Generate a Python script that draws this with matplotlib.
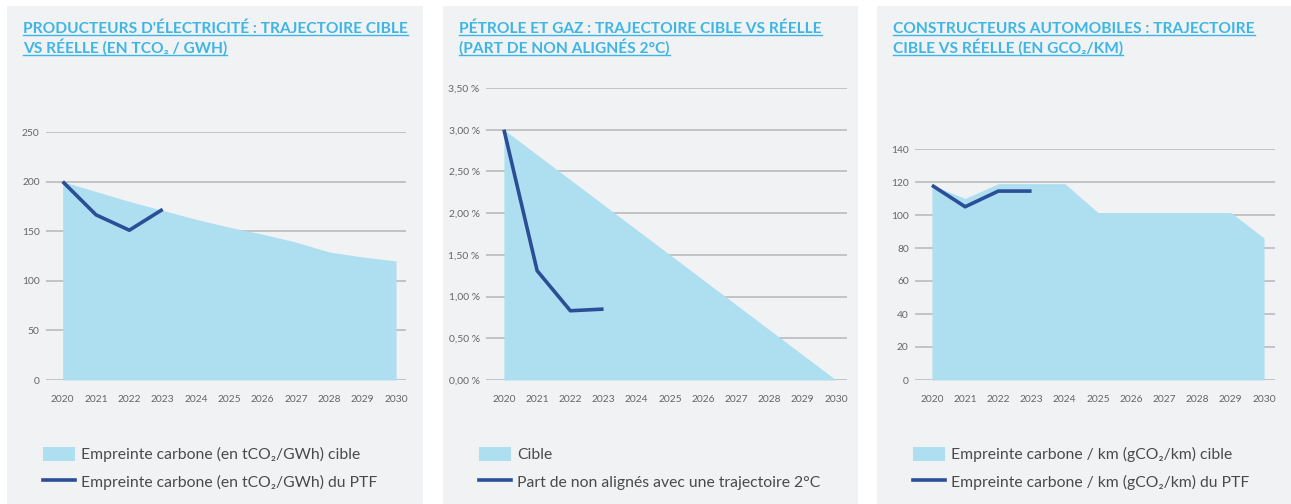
import matplotlib.pyplot as plt
from matplotlib.patches import Rectangle, Patch
from matplotlib.lines import Line2D
from matplotlib.ticker import FuncFormatter

plt.rcParams['font.family'] = ['Lato', 'DejaVu Sans']

# Données
annees = list(range(2020, 2031))
annees_ptf = [2020, 2021, 2022, 2023]

elec_cible = [200, 190, 180, 171, 162, 154, 147, 139, 129, 124, 120]
elec_ptf = [200, 166.5, 151, 172]

petrole_cible = [3.0, 2.7, 2.4, 2.1, 1.8, 1.5, 1.2, 0.9, 0.6, 0.3, 0.0]
petrole_ptf = [3.0, 1.31, 0.83, 0.85]

auto_cible = [118, 110, 119, 119, 119, 101.5, 101.5, 101.5, 101.5, 101.5, 86]
auto_ptf = [118, 105, 114.5, 114.5]

titres = [
    ["PRODUCTEURS D'ÉLECTRICITÉ : TRAJECTOIRE CIBLE", "VS RÉELLE (EN TCO₂ / GWH)"],
    ["PÉTROLE ET GAZ : TRAJECTOIRE CIBLE VS RÉELLE", "(PART DE NON ALIGNÉS 2°C)"],
    ["CONSTRUCTEURS AUTOMOBILES : TRAJECTOIRE", "CIBLE VS RÉELLE (EN GCO₂/KM)"],
]
legendes = [
    ["Empreinte carbone (en tCO₂/GWh) cible", "Empreinte carbone (en tCO₂/GWh) du PTF"],
    ["Cible", "Part de non alignés avec une trajectoire 2°C"],
    ["Empreinte carbone / km (gCO₂/km) cible", "Empreinte carbone / km (gCO₂/km) du PTF"],
]
yticks = [
    [0, 50, 100, 150, 200, 250],
    [0, 0.5, 1.0, 1.5, 2.0, 2.5, 3.0, 3.5],
    [0, 20, 40, 60, 80, 100, 120, 140],
]
cibles = [elec_cible, petrole_cible, auto_cible]
ptfs = [elec_ptf, petrole_ptf, auto_ptf]

W, H = 1291, 504
BLEU_CLAIR = '#addff0'
BLEU_FONCE = '#2b4f96'
TITRE = '#3db6e6'
FOND = '#f1f2f4'

# position des panneaux (pixels) : fond x0, x1 ; axes x0, x1, haut ; limites x
panneaux = [
    dict(bg=(7, 423), ax=(46, 406), top=132, xlim=(2019.5, 2030.3)),
    dict(bg=(443, 858), ax=(486, 847), top=88, xlim=(2019.46, 2030.33)),
    dict(bg=(877, 1291), ax=(915, 1275), top=149, xlim=(2019.49, 2030.33)),
]
AXE_BAS = 380

fig = plt.figure(figsize=(W / 100, H / 100), dpi=100)
fig.patch.set_facecolor('white')


def fx(px):
    return px / W


def fy(py):
    return 1 - py / H


titres_txt = []
for i, p in enumerate(panneaux):
    x0, x1 = p['bg']
    fig.patches.append(Rectangle((fx(x0), 0), fx(x1 - x0), fy(6), transform=fig.transFigure,
                                 facecolor=FOND, edgecolor='none', zorder=-5))

    ax0, ax1 = p['ax']
    ax = fig.add_axes([fx(ax0), fy(AXE_BAS), fx(ax1 - ax0), (AXE_BAS - p['top']) / H])
    ax.set_facecolor('none')
    ax.fill_between(annees, cibles[i], color=BLEU_CLAIR, lw=0, zorder=1)
    ax.plot(annees_ptf, ptfs[i], color=BLEU_FONCE, lw=2.6, zorder=2, solid_capstyle='butt')
    ax.set_xlim(*p['xlim'])
    ax.set_ylim(yticks[i][0], yticks[i][-1])
    ax.set_xticks(annees)
    ax.set_yticks(yticks[i])
    ax.set_axisbelow(True)
    ax.grid(axis='y', color='#bfc0c3', lw=1.3)
    for s in ax.spines.values():
        s.set_visible(False)
    ax.tick_params(length=0, labelsize=7.4, labelcolor='#666666')
    ax.tick_params(axis='x', pad=11)
    ax.tick_params(axis='y', pad=4.5)
    if i == 1:
        ax.yaxis.set_major_formatter(FuncFormatter(lambda v, _: f'{v:.2f} %'.replace('.', ',')))

    # titre souligné, deux lignes
    for j, ligne in enumerate(titres[i]):
        t = fig.text(fx(x0 + 16), fy(33 + j * 20), ligne, color=TITRE, fontsize=11.15,
                     fontweight='bold', ha='left', va='baseline')
        titres_txt.append((t, 33 + j * 20))

    handles = [Patch(facecolor=BLEU_CLAIR, edgecolor='none'),
               Line2D([], [], color=BLEU_FONCE, lw=2.6)]
    fig.legend(handles, legendes[i], loc='upper left', bbox_to_anchor=(fx(x0 + 36), fy(447)),
               frameon=False, fontsize=11.3, labelcolor='#4a4a4a', handlelength=2.05,
               handleheight=1.0, handletextpad=0.4, labelspacing=0.75, borderpad=0,
               borderaxespad=0)

fig.canvas.draw()
renderer = fig.canvas.get_renderer()
for t, base in titres_txt:
    bb = t.get_window_extent(renderer)
    fig.lines.append(Line2D([fx(bb.x0), fx(bb.x1)], [fy(base + 2), fy(base + 2)],
                            transform=fig.transFigure, color=TITRE, lw=1.0))

fig.savefig('out.png', dpi=100)
